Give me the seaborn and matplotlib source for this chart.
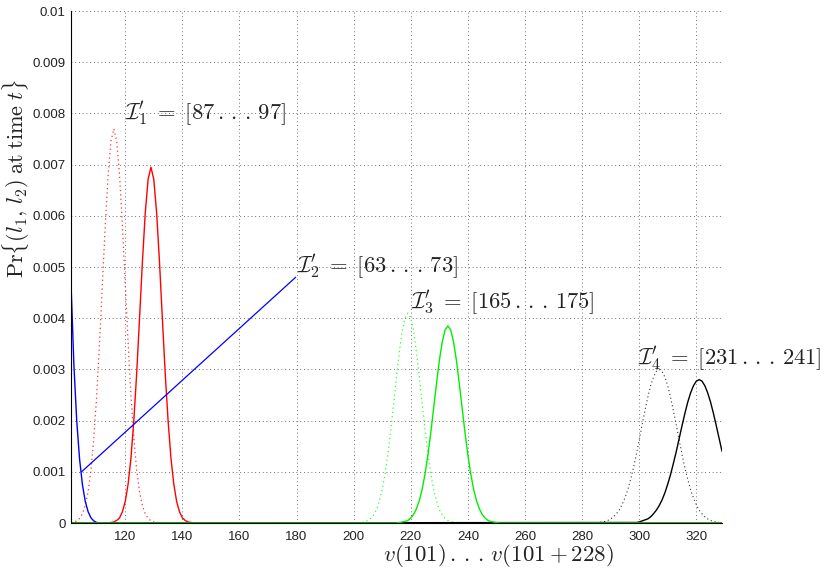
import matplotlib
matplotlib.use("Agg")
import matplotlib.pyplot as plt
import seaborn as sns
import pandas as pd

# ---- data ----
blue_x = [101, 102, 103, 104, 105, 106, 107, 108, 109, 110, 111, 329]
blue_y = [0.0047, 0.0031, 0.0020, 0.00125, 0.00075, 0.00042, 0.00022, 0.0001,
          0.00004, 0.00001, 0.0, 0.0]

red_dot_x = list(range(101, 132))
red_dot_y = [0.00001, 0.00002, 0.00004, 0.00009, 0.00018, 0.00034, 0.00061, 0.00104,
             0.00167, 0.00250, 0.00353, 0.00467, 0.00581, 0.00680, 0.00746, 0.00770,
             0.00746, 0.00680, 0.00581, 0.00467, 0.00353, 0.00250, 0.00167, 0.00104,
             0.00061, 0.00034, 0.00018, 0.00009, 0.00004, 0.00002, 0.00001]

red_x = [101] + list(range(114, 145)) + [329]
red_y = [0.0, 0.0, 0.00001, 0.00002, 0.00005, 0.00010, 0.00022, 0.00042, 0.00076,
         0.00127, 0.00200, 0.00292, 0.00399, 0.00509, 0.00605, 0.00671, 0.00695,
         0.00671, 0.00605, 0.00509, 0.00399, 0.00292, 0.00200, 0.00127, 0.00076,
         0.00042, 0.00022, 0.00010, 0.00005, 0.00002, 0.00001, 0.0, 0.0]

green_dot_x = list(range(203, 236))
green_dot_y = [0.00001, 0.00003, 0.00005, 0.00009, 0.00016, 0.00026, 0.00043, 0.00066,
               0.00096, 0.00135, 0.00182, 0.00233, 0.00285, 0.00334, 0.00375, 0.00401,
               0.00410, 0.00401, 0.00375, 0.00334, 0.00285, 0.00233, 0.00182, 0.00135,
               0.00096, 0.00066, 0.00043, 0.00026, 0.00016, 0.00009, 0.00005, 0.00003,
               0.00001]

green_x = [101] + list(range(215, 252)) + [329]
green_y = [0.0, 0.0, 0.00001, 0.00002, 0.00003, 0.00005, 0.00010, 0.00017, 0.00028,
           0.00044, 0.00066, 0.00096, 0.00133, 0.00176, 0.00224, 0.00272, 0.00317,
           0.00353, 0.00377, 0.00385, 0.00377, 0.00353, 0.00317, 0.00272, 0.00224,
           0.00176, 0.00133, 0.00096, 0.00066, 0.00044, 0.00028, 0.00017, 0.00010,
           0.00005, 0.00003, 0.00002, 0.00001, 0.0, 0.0]

black_dot_x = list(range(285, 330))
black_dot_y = [0.0, 0.00001, 0.00002, 0.00003, 0.00005, 0.00008, 0.00012, 0.00018,
               0.00025, 0.00036, 0.00049, 0.00065, 0.00085, 0.00108, 0.00134, 0.00162,
               0.00191, 0.00219, 0.00245, 0.00268, 0.00285, 0.00296, 0.00300, 0.00296,
               0.00285, 0.00268, 0.00245, 0.00219, 0.00191, 0.00162, 0.00134, 0.00108,
               0.00085, 0.00065, 0.00049, 0.00036, 0.00025, 0.00018, 0.00012, 0.00008,
               0.00005, 0.00003, 0.00002, 0.00001, 0.0]

black_x = [101] + list(range(299, 330))
black_y = [0.0, 0.00001, 0.00002, 0.00004, 0.00006, 0.00008, 0.00012, 0.00018, 0.00025,
           0.00034, 0.00045, 0.00059, 0.00076, 0.00095, 0.00117, 0.00140, 0.00165,
           0.00190, 0.00214, 0.00236, 0.00254, 0.00268, 0.00277, 0.00280, 0.00277,
           0.00268, 0.00254, 0.00236, 0.00214, 0.00190, 0.00165, 0.00140]

pointer_x = [104.7, 179.7]
pointer_y = [0.0010, 0.0048]

labels = [r"$\mathcal{I}_1^\prime\;=\;[87\,.\,.\,.\,97]$",
          r"$\mathcal{I}_2^\prime\;=\;[63\,.\,.\,.\,73]$",
          r"$\mathcal{I}_3^\prime\;=\;[165\,.\,.\,.\,175]$",
          r"$\mathcal{I}_4^\prime\;=\;[231\,.\,.\,.\,241]$"]
label_x = [120, 180, 220, 299.5]
label_y = [0.0080, 0.0050, 0.0043, 0.0032]

x_ticks = [120, 140, 160, 180, 200, 220, 240, 260, 280, 300, 320]
y_ticks = [0, 0.001, 0.002, 0.003, 0.004, 0.005, 0.006, 0.007, 0.008, 0.009, 0.01]
y_tick_labels = ["0", "0.001", "0.002", "0.003", "0.004", "0.005", "0.006",
                 "0.007", "0.008", "0.009", "0.01"]

# ---- plotting ----
sns.set_style("white")
plt.rcParams["font.family"] = ["Liberation Sans", "DejaVu Sans"]
plt.rcParams["mathtext.fontset"] = "cm"

fig = plt.figure(figsize=(8.31, 5.70), dpi=100)
ax = fig.add_axes([71 / 831, 47 / 570, 651 / 831, 512 / 570])

def draw(x, y, color, style, lw):
    df = pd.DataFrame({"x": x, "y": y})
    sns.lineplot(data=df, x="x", y="y", color=color, linestyle=style, linewidth=lw,
                 sort=False, estimator=None, ax=ax)

dotted = (0, (1, 2.5))
draw(red_dot_x, red_dot_y, "#ff3030", dotted, 0.9)
draw(green_dot_x, green_dot_y, "#30ff30", dotted, 0.9)
draw(black_dot_x, black_dot_y, "#333333", dotted, 0.8)
draw(blue_x, blue_y, "#0000ff", "-", 1.0)
draw(red_x, red_y, "#ff0000", "-", 1.0)
draw(black_x, black_y, "#000000", "-", 1.0)
draw(green_x, green_y, "#00ee00", "-", 1.0)
draw(pointer_x, pointer_y, "#0000ff", "-", 0.9)

for t, tx, ty in zip(labels, label_x, label_y):
    ax.text(tx, ty, t, fontsize=16.3, ha="left", va="center", color="#222222")

ax.set_xlim(101, 329)
ax.set_ylim(0, 0.01)
ax.set_xticks(x_ticks)
ax.set_yticks(y_ticks)
ax.set_yticklabels(y_tick_labels)
ax.tick_params(direction="in", length=5, width=0.6, labelsize=9.5, colors="#222222")
ax.tick_params(axis="x", pad=6)
ax.tick_params(axis="y", pad=4)
ax.grid(True, linestyle=(0, (1, 3.5)), color="#444444", linewidth=0.6)
for s in ["top", "right"]:
    ax.spines[s].set_visible(False)
for s in ["left", "bottom"]:
    ax.spines[s].set_color("black")
    ax.spines[s].set_linewidth(0.8)

ax.set_xlabel(r"$v(101)\,.\,.\,.\,v(101+228)$", fontsize=16.5, color="#222222")
ax.xaxis.set_label_coords(0.656, -0.063)
ax.xaxis.label.set_va("center")
ax.set_ylabel(r"$\mathrm{Pr}\{(l_1,\,l_2)\;\mathrm{at}\;\mathrm{time}\;t\}$",
              fontsize=16, color="#222222")
ax.yaxis.set_label_coords(-0.084, 0.673)
ax.yaxis.label.set_va("center")

fig.savefig("out.png", dpi=100)
